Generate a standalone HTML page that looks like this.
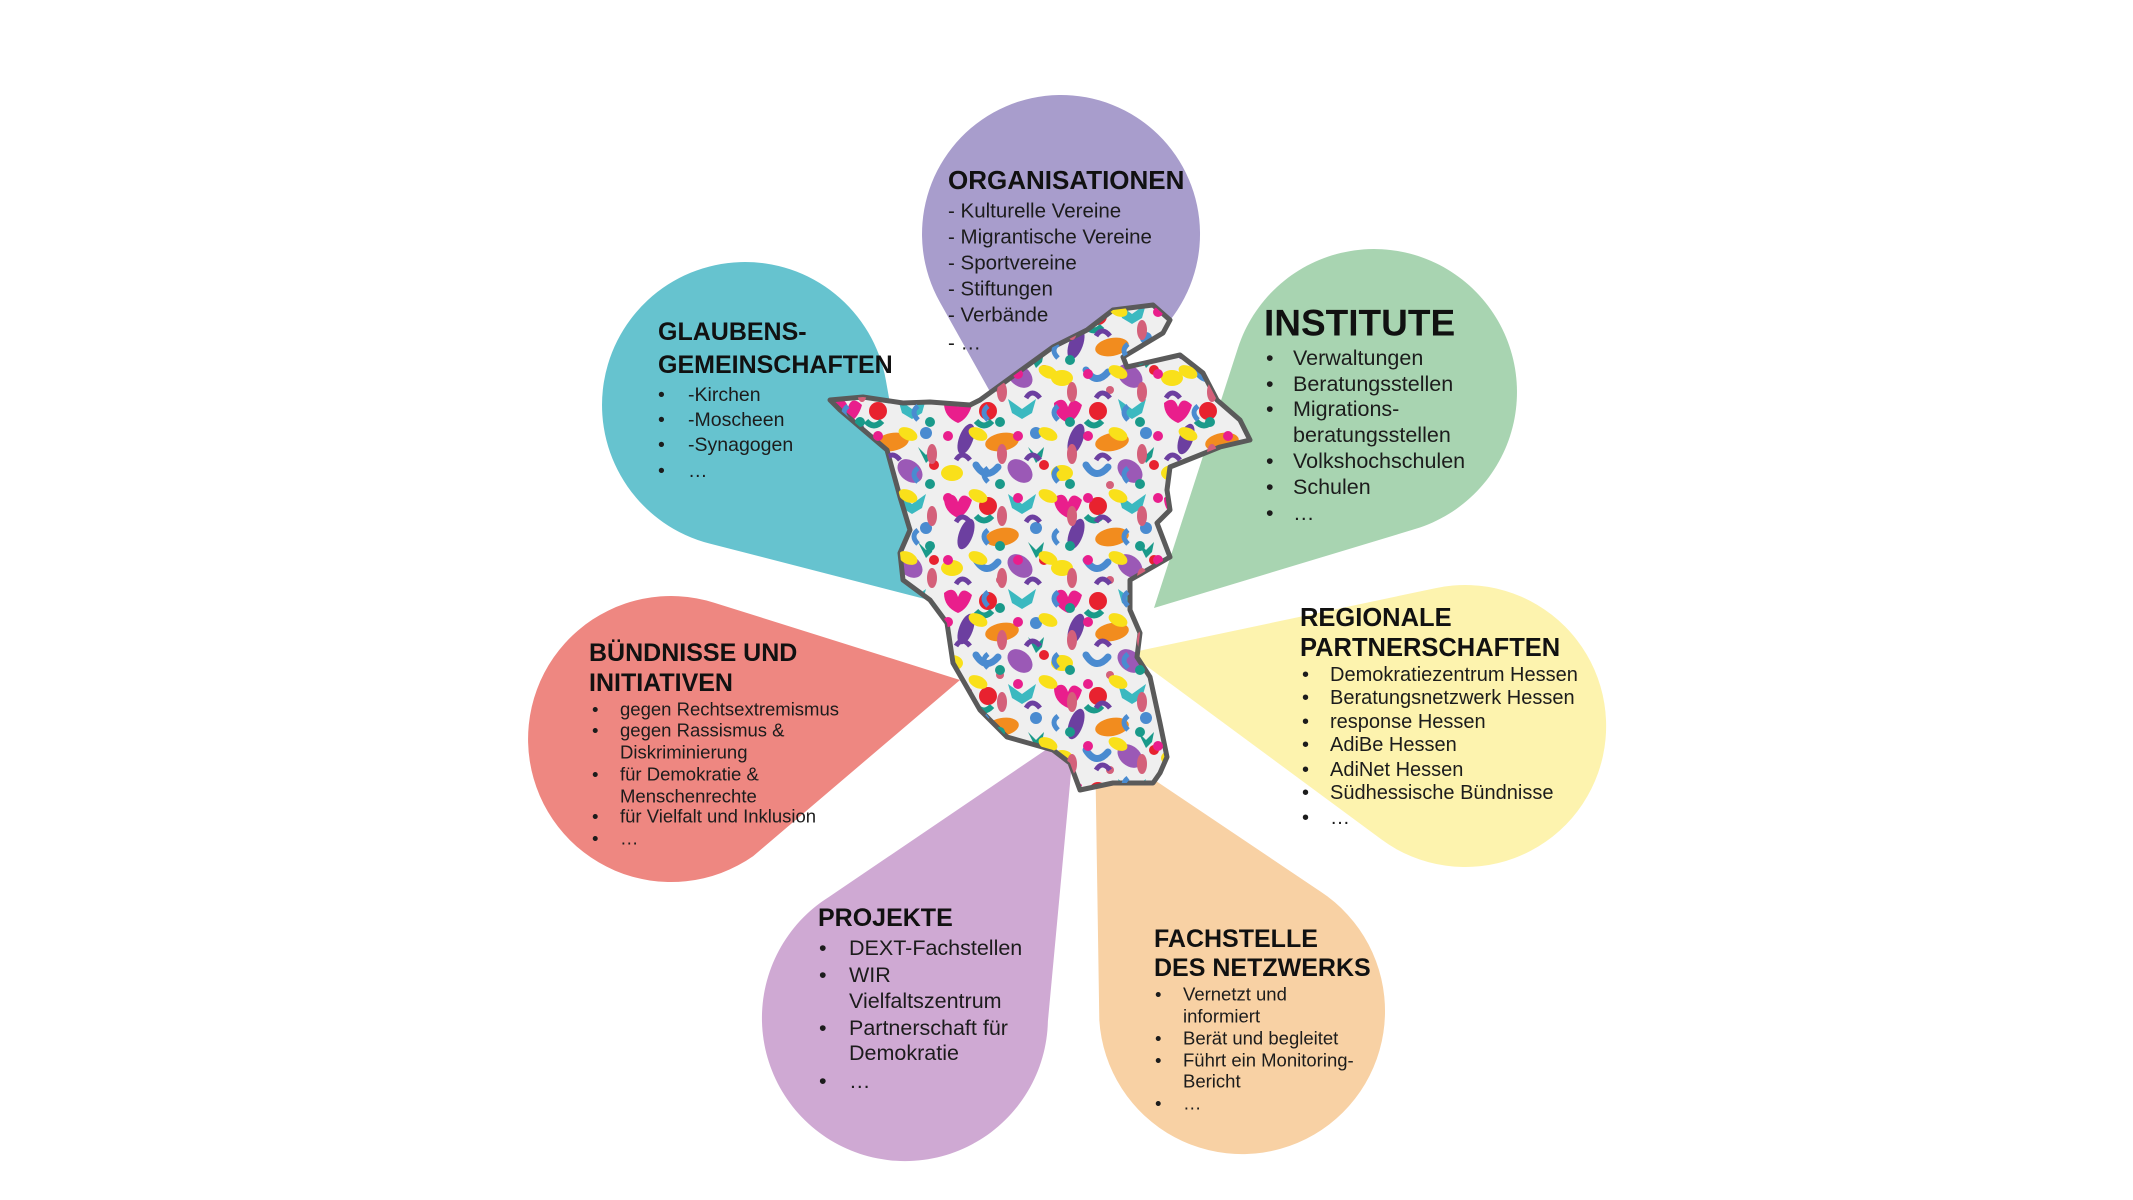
<!DOCTYPE html>
<html><head><meta charset="utf-8"><style>
html,body{margin:0;padding:0;background:#fff;}
svg{display:block;}
text{font-family:"Liberation Sans",sans-serif;fill:#1c1c1c;dominant-baseline:central;}
.t{font-weight:bold;fill:#111;}
</style></head><body>
<svg width="2133" height="1200" viewBox="0 0 2133 1200" xmlns="http://www.w3.org/2000/svg">
<defs>
<pattern id="pa" width="110" height="95" patternUnits="userSpaceOnUse" x="830" y="300">
<rect width="110" height="95" fill="#efefef"/>
<path d="M4 8 q10 -8 14 4 q4 -12 14 -2 q-4 14 -14 18 q-14 -6 -14 -20z" fill="#e91e8c"/>
<circle cx="48" cy="16" r="9" fill="#e8222f"/>
<path d="M68 4 l14 10 l14 -10 l-4 14 l-10 6 l-10 -6z" fill="#3bb9c0"/>
<ellipse cx="26" cy="44" rx="7" ry="16" fill="#6c3fa0" transform="rotate(20 26 44)"/>
<ellipse cx="62" cy="47" rx="17" ry="9" fill="#f28c1e" transform="rotate(-10 62 47)"/>
<circle cx="96" cy="38" r="6" fill="#4a8bd0"/>
<ellipse cx="12" cy="78" rx="11" ry="8" fill="#f9e01a"/>
<path d="M36 70 q10 16 22 2" stroke="#4a8bd0" stroke-width="7" fill="none" stroke-linecap="round"/>
<ellipse cx="80" cy="76" rx="14" ry="10" fill="#9b59b6" transform="rotate(40 80 76)"/>
<circle cx="104" cy="70" r="5" fill="#e8222f"/>
<path d="M36 26 q8 9 16 0" stroke="#1a9a8a" stroke-width="6" fill="none"/>
<path d="M88 52 l8 8 l8 -8 l-2 10 l-6 6 z" fill="#1a9a8a"/>
<circle cx="60" cy="90" r="4" fill="#d4607a"/>
</pattern>
<pattern id="pb" width="70" height="62" patternUnits="userSpaceOnUse" x="800" y="280">
<circle cx="8" cy="32" r="5" fill="#e91e8c"/>
<ellipse cx="38" cy="30" rx="10" ry="6" fill="#f9e01a" transform="rotate(25 38 30)"/>
<path d="M16 56 q6 -10 14 0" stroke="#6c3fa0" stroke-width="5" fill="none"/>
<circle cx="60" cy="18" r="5" fill="#1a9a8a"/>
<ellipse cx="62" cy="50" rx="5" ry="10" fill="#d4607a"/>
<path d="M48 2 q-8 6 0 14" stroke="#4a8bd0" stroke-width="5" fill="none"/>
</pattern>
</defs>
<!-- petals -->
<path d="M1007,422 L1127.6,356 A139,139 0 1 0 939.8,302 Z" fill="#a89dcc"/>
<path d="M1154,608 L1415.5,528.9 A143,143 0 1 0 1237.9,348.1 Z" fill="#a8d4b1"/>
<path d="M925,599 L885.8,379.9 A143,143 0 1 0 709.4,543.5 Z" fill="#66c3cf"/>
<path d="M960,680 L714.2,602.7 A143,143 0 1 0 753.2,856.1 Z" fill="#ee8781"/>
<path d="M1129,653 L1381.2,839.3 A141,141 0 1 0 1435.8,588.1 Z" fill="#fdf3ae"/>
<path d="M1075,730 L828.7,897.1 A143,143 0 1 0 1047.9,1021.3 Z" fill="#cfa9d3"/>
<path d="M1095,740 L1099.3,1020.1 A143,143 0 1 0 1320.1,891.3 Z" fill="#f8d1a4"/>
<!-- map -->
<path d="M830,400 L863,397 L903,403 L930,402 L970,405 L980,400 L1053,347 L1087,330 L1113,310 L1153,305 L1170,320 L1163,333 L1123,357 L1127,367 L1180,355 L1203,373 L1217,400 L1240,420 L1250,440 L1220,447 L1170,467 L1167,490 L1170,510 L1157,523 L1170,557 L1130,580 L1130,610 L1140,633 L1137,657 L1150,677 L1160,723 L1167,757 L1160,773 L1153,783 L1113,783 L1080,790 L1070,763 L1053,750 L1007,737 L980,710 L953,663 L947,623 L930,600 L903,580 L900,553 L910,530 L900,497 L887,450 L840,410 Z" fill="url(#pa)" stroke="#5a5a5a" stroke-width="5" stroke-linejoin="round"/>
<path d="M830,400 L863,397 L903,403 L930,402 L970,405 L980,400 L1053,347 L1087,330 L1113,310 L1153,305 L1170,320 L1163,333 L1123,357 L1127,367 L1180,355 L1203,373 L1217,400 L1240,420 L1250,440 L1220,447 L1170,467 L1167,490 L1170,510 L1157,523 L1170,557 L1130,580 L1130,610 L1140,633 L1137,657 L1150,677 L1160,723 L1167,757 L1160,773 L1153,783 L1113,783 L1080,790 L1070,763 L1053,750 L1007,737 L980,710 L953,663 L947,623 L930,600 L903,580 L900,553 L910,530 L900,497 L887,450 L840,410 Z" fill="url(#pb)"/>

<!-- ORGANISATIONEN -->
<text class="t" x="948" y="180" font-size="26">ORGANISATIONEN</text>
<g font-size="20.5">
<text x="948" y="211">- Kulturelle Vereine</text>
<text x="948" y="237">- Migrantische Vereine</text>
<text x="948" y="263">- Sportvereine</text>
<text x="948" y="289">- Stiftungen</text>
<text x="948" y="315">- Verbände</text>
<text x="948" y="343">- …</text>
</g>
<!-- GLAUBENS -->
<text class="t" x="658" y="332" font-size="25">GLAUBENS-</text>
<text class="t" x="658" y="365" font-size="25">GEMEINSCHAFTEN</text>
<g font-size="19.5">
<text x="658" y="395">•</text><text x="688" y="395">-Kirchen</text>
<text x="658" y="420">•</text><text x="688" y="420">-Moscheen</text>
<text x="658" y="445">•</text><text x="688" y="445">-Synagogen</text>
<text x="658" y="471">•</text><text x="688" y="471">…</text>
</g>
<!-- INSTITUTE -->
<text class="t" x="1264" y="323" font-size="37">INSTITUTE</text>
<g font-size="21.5">
<text x="1266" y="358">•</text><text x="1293" y="358">Verwaltungen</text>
<text x="1266" y="384">•</text><text x="1293" y="384">Beratungsstellen</text>
<text x="1266" y="409">•</text><text x="1293" y="409">Migrations-</text>
<text x="1293" y="435">beratungsstellen</text>
<text x="1266" y="461">•</text><text x="1293" y="461">Volkshochschulen</text>
<text x="1266" y="487">•</text><text x="1293" y="487">Schulen</text>
<text x="1266" y="513">•</text><text x="1293" y="513">…</text>
</g>
<!-- REGIONALE -->
<text class="t" x="1300" y="618" font-size="25.5">REGIONALE</text>
<text class="t" x="1300" y="648" font-size="25.5">PARTNERSCHAFTEN</text>
<g font-size="20">
<text x="1302" y="675">•</text><text x="1330" y="675">Demokratiezentrum Hessen</text>
<text x="1302" y="698">•</text><text x="1330" y="698">Beratungsnetzwerk Hessen</text>
<text x="1302" y="722">•</text><text x="1330" y="722">response Hessen</text>
<text x="1302" y="745">•</text><text x="1330" y="745">AdiBe Hessen</text>
<text x="1302" y="770">•</text><text x="1330" y="770">AdiNet Hessen</text>
<text x="1302" y="793">•</text><text x="1330" y="793">Südhessische Bündnisse</text>
<text x="1302" y="818">•</text><text x="1330" y="818">…</text>
</g>
<!-- BÜNDNISSE -->
<text class="t" x="589" y="653" font-size="25">BÜNDNISSE UND</text>
<text class="t" x="589" y="683" font-size="25">INITIATIVEN</text>
<g font-size="18.5">
<text x="592" y="709">•</text><text x="620" y="709">gegen  Rechtsextremismus</text>
<text x="592" y="730">•</text><text x="620" y="730">gegen  Rassismus &amp;</text>
<text x="620" y="752">Diskriminierung</text>
<text x="592" y="774">•</text><text x="620" y="774">für Demokratie &amp;</text>
<text x="620" y="796">Menschenrechte</text>
<text x="592" y="816">•</text><text x="620" y="816">für Vielfalt und Inklusion</text>
<text x="592" y="838">•</text><text x="620" y="838">…</text>
</g>
<!-- PROJEKTE -->
<text class="t" x="818" y="918" font-size="25">PROJEKTE</text>
<g font-size="21.5">
<text x="819" y="948">•</text><text x="849" y="948">DEXT-Fachstellen</text>
<text x="819" y="975">•</text><text x="849" y="975">WIR</text>
<text x="849" y="1001">Vielfaltszentrum</text>
<text x="819" y="1028">•</text><text x="849" y="1028">Partnerschaft für</text>
<text x="849" y="1053">Demokratie</text>
<text x="819" y="1081">•</text><text x="849" y="1081">…</text>
</g>
<!-- FACHSTELLE -->
<text class="t" x="1154" y="939" font-size="25">FACHSTELLE</text>
<text class="t" x="1154" y="968" font-size="25">DES NETZWERKS</text>
<g font-size="18.5">
<text x="1155" y="994">•</text><text x="1183" y="994">Vernetzt  und</text>
<text x="1183" y="1016">informiert</text>
<text x="1155" y="1038">•</text><text x="1183" y="1038">Berät und begleitet</text>
<text x="1155" y="1060">•</text><text x="1183" y="1060">Führt ein Monitoring-</text>
<text x="1183" y="1081">Bericht</text>
<text x="1155" y="1103">•</text><text x="1183" y="1103">…</text>
</g>
</svg>
</body></html>
